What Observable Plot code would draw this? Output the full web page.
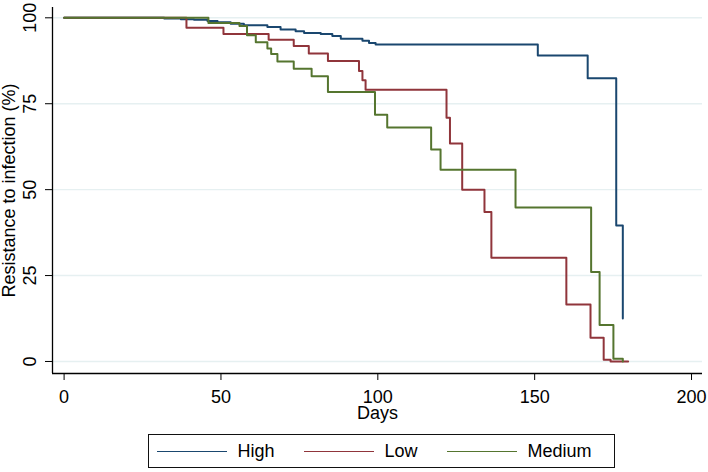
<!DOCTYPE html>
<html><head><meta charset="utf-8">
<script src="https://cdn.jsdelivr.net/npm/d3@7"></script>
<script src="https://cdn.jsdelivr.net/npm/@observablehq/plot@0.6"></script>
<style>
body{margin:0;background:#fff;font-family:"Liberation Sans",Arial,sans-serif;}
#chart{position:relative;width:708px;height:472px;}
#chart svg{display:block;}
.legend{position:absolute;left:148px;top:434px;width:467px;height:34px;box-sizing:border-box;border:1.3px solid #111;display:flex;align-items:center;padding-left:7.5px;gap:29px;font-size:18px;color:#000;}
.item{display:flex;align-items:center;gap:11px;}
.sw{width:70px;height:0;border-top:1.6px solid;}
</style></head>
<body><div id="chart"></div>
<script>
const groups = ["High", "Low", "Medium"];
const colors = ["#1a476f", "#90353b", "#55752f"];

const highDays = [0,31.9,37.2,41.4,45.7,48.9,53.1,57.3,64.8,69,73.8,76.5,81.8,85.5,88.2,95.1,97.2,99.3,151,166.9,176,178.1];
const highSurv = [100,99.8,99.6,99.4,99.1,98.7,98.3,97.8,97.3,96.6,96.1,95.6,95.3,94.7,93.9,93.3,92.7,92.2,89.0,82.4,39.6,12.5];

const lowDays = [0,39,50.8,65.2,73.2,78,84.1,94,95.1,96.1,121.9,123,126.9,134,136.2,160.1,167.8,172,174.2,179.8];
const lowSurv = [100,97.1,95.3,93.6,91.8,89.6,87.4,84.5,81.8,79.1,70.9,63.4,50.0,43.5,30.2,16.6,6.9,0.5,0,0];

const medDays = [0,46,55.9,58.3,61.1,64.8,66,68,73.2,78.9,84.1,99.1,103,117,120,143.9,168,170.7,175.1,178.1];
const medSurv = [100,98.5,97.6,94.9,92.9,91.1,89.5,87.3,85.2,83.0,78.4,71.8,68.1,61.7,55.8,44.8,26.0,10.6,0.8,0];

const xTicks = [0, 50, 100, 150, 200];
const yTicks = [0, 25, 50, 75, 100];
const xDomain = [-3.7, 203.5];
const yDomain = [-3.5, 103];

const series = [[highDays, highSurv], [lowDays, lowSurv], [medDays, medSurv]];
const rows = [];
series.forEach(([days, surv], g) => days.forEach((d, i) => rows.push({group: groups[g], day: d, surv: surv[i]})));

const chart = Plot.plot({
  width: 708, height: 430,
  marginLeft: 52, marginRight: 6, marginTop: 7, marginBottom: 57,
  style: {fontFamily: '"Liberation Sans", Arial, sans-serif', fontSize: "18px", color: "#000", background: "#fff"},
  x: {domain: xDomain},
  y: {domain: yDomain},
  color: {domain: groups, range: colors},
  marks: [
    Plot.gridY(yTicks, {stroke: "#e6f0f1", strokeOpacity: 1, strokeWidth: 1.4}),
    Plot.line(rows, {x: "day", y: "surv", z: "group", stroke: "group", curve: "step-after", strokeWidth: 2}),
    Plot.ruleX([xDomain[0]], {stroke: "#000", strokeWidth: 1.3}),
    Plot.ruleY([yDomain[0]], {stroke: "#000", strokeWidth: 1.3}),
    Plot.axisX(xTicks, {tickSize: 7, tickPadding: 10, label: "Days", labelAnchor: "center", labelOffset: 45.5, labelArrow: "none"}),
    Plot.axisY(yTicks, {tickSize: 7, tickFormat: () => "", label: "Resistance to infection (%)", labelAnchor: "center", labelOffset: 50, labelArrow: "none"}),
    Plot.text(yTicks, {y: (d) => d, text: (d) => String(d), frameAnchor: "left", dx: -22, rotate: -90, textAnchor: "middle", lineAnchor: "middle", fill: "#000"})
  ]
});
const root = document.getElementById("chart");
root.appendChild(chart);

const legend = document.createElement("div");
legend.className = "legend";
groups.forEach((g, i) => {
  const item = document.createElement("div");
  item.className = "item";
  const sw = document.createElement("span");
  sw.className = "sw";
  sw.style.borderTopColor = colors[i];
  const t = document.createElement("span");
  t.textContent = g;
  item.appendChild(sw); item.appendChild(t);
  legend.appendChild(item);
});
root.appendChild(legend);
</script></body></html>
